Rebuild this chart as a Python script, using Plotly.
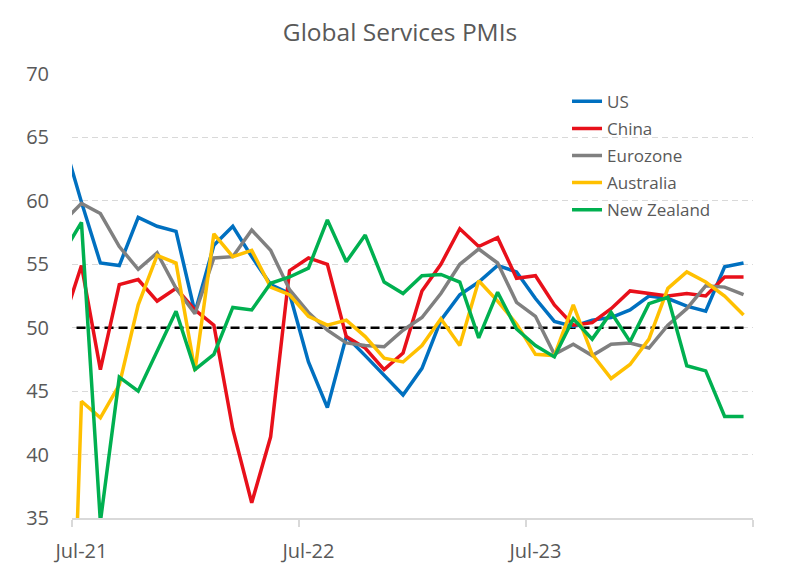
import plotly.graph_objects as go

# Monthly labels (Jun-21 is a partial, clipped lead-in month as in the original)
months = ["Jun-21", "Jul-21", "Aug-21", "Sep-21", "Oct-21", "Nov-21", "Dec-21",
          "Jan-22", "Feb-22", "Mar-22", "Apr-22", "May-22", "Jun-22",
          "Jul-22", "Aug-22", "Sep-22", "Oct-22", "Nov-22", "Dec-22",
          "Jan-23", "Feb-23", "Mar-23", "Apr-23", "May-23", "Jun-23",
          "Jul-23", "Aug-23", "Sep-23", "Oct-23", "Nov-23", "Dec-23",
          "Jan-24", "Feb-24", "Mar-24", "Apr-24", "May-24", "Jun-24"]

us = [65.0, 59.9, 55.1, 54.9, 58.7, 58.0, 57.6,
      51.2, 56.5, 58.0, 55.6, 53.4, 52.7, 47.3, 43.7, 49.3, 47.8, 46.2, 44.7,
      46.8, 50.6, 52.6, 53.6, 54.9, 54.4, 52.3, 50.5, 50.1, 50.6, 50.8, 51.4,
      52.5, 52.3, 51.7, 51.3, 54.8, 55.1]
china = [50.3, 54.9, 46.7, 53.4, 53.8, 52.1, 53.1,
         51.4, 50.2, 42.0, 36.2, 41.4, 54.5, 55.5, 55.0, 49.3, 48.4, 46.7, 48.0,
         52.9, 55.0, 57.8, 56.4, 57.1, 53.9, 54.1, 51.8, 50.2, 50.4, 51.5, 52.9,
         52.7, 52.5, 52.7, 52.5, 54.0, 54.0]
eurozone = [58.3, 59.8, 59.0, 56.4, 54.6, 55.9, 53.1,
            51.1, 55.5, 55.6, 57.7, 56.1, 53.0, 51.2, 49.8, 48.8, 48.6, 48.5, 49.8,
            50.8, 52.7, 55.0, 56.2, 55.1, 52.0, 50.9, 47.9, 48.7, 47.8, 48.7, 48.8,
            48.4, 50.2, 51.5, 53.3, 53.2, 52.6]
australia = [0.0, 44.2, 42.9, 45.5, 51.8, 55.7, 55.1,
             46.6, 57.4, 55.6, 56.1, 53.2, 52.6, 50.9, 50.2, 50.6, 49.3, 47.6, 47.3,
             48.6, 50.7, 48.6, 53.7, 52.1, 50.3, 47.9, 47.8, 51.8, 47.9, 46.0, 47.1,
             49.1, 53.1, 54.4, 53.6, 52.5, 51.0]
new_zealand = [55.8, 58.3, 34.7, 46.1, 45.0, 48.2, 51.3,
               46.7, 47.9, 51.6, 51.4, 53.5, 54.0, 54.7, 58.5, 55.2, 57.3, 53.6, 52.7,
               54.1, 54.2, 53.6, 49.2, 52.8, 49.9, 48.6, 47.7, 50.7, 49.1, 51.2, 48.9,
               51.9, 52.4, 47.0, 46.6, 43.0, 43.0]
threshold = [50] * len(months)

tick_labels = ["Jul-21", "Jul-22", "Jul-23"]

series = [("US", us, "#0070C0"),
          ("China", china, "#E8101A"),
          ("Eurozone", eurozone, "#808080"),
          ("Australia", australia, "#FFC000"),
          ("New Zealand", new_zealand, "#00B050")]

first = months.index("Jul-21")
xpos = [i - first for i in range(len(months))]
label_pos = [months.index(m) - first for m in tick_labels]
n_shown = len(months) - first
bounds = [-0.5 + 12 * k for k in range(n_shown // 12 + 1)]

FONT = "Open Sans"
GREY_TXT = "#595959"
W, H = 784, 569  # page body has an 8px margin

fig = go.Figure()
fig.add_trace(go.Scatter(x=xpos, y=threshold, mode="lines", showlegend=False,
                         line=dict(color="black", width=2.5, dash="9px,5px"),
                         hoverinfo="skip"))
for name, vals, col in series:
    fig.add_trace(go.Scatter(x=xpos, y=vals, mode="lines", name=name,
                             legendgroup=name,
                             line=dict(color=col, width=3.5)))

fig.update_layout(
    width=W, height=H,
    margin=dict(l=64, r=39, t=66, b=59),
    paper_bgcolor="white", plot_bgcolor="white",
    font=dict(family=FONT, color=GREY_TXT),
    title=dict(text="Global Services PMIs", x=0.5, xref="container", xanchor="center",
               y=1 - 24 / H, yref="container", yanchor="middle",
               font=dict(size=24.5, color=GREY_TXT, family=FONT)),
    legend=dict(x=0.7269, y=0.978, xanchor="left", yanchor="top",
                bgcolor="rgba(0,0,0,0)", font=dict(size=17, color=GREY_TXT),
                tracegroupgap=2),
    xaxis=dict(range=[bounds[0], bounds[-1]], tickmode="array",
               tickvals=label_pos, ticktext=tick_labels, ticks="",
               showgrid=False, zeroline=False,
               showline=True, linecolor="#D9D9D9", linewidth=1.5,
               tickfont=dict(size=20, color=GREY_TXT),
               ticklabelstandoff=14, ticklabeloverflow="allow",
               minor=dict(tickmode="array", tickvals=bounds, ticks="outside",
                          ticklen=7, tickwidth=1.5, tickcolor="#D9D9D9",
                          showgrid=False)),
    yaxis=dict(range=[35, 70], dtick=5, tick0=35, showgrid=True,
               gridcolor="#D9D9D9", gridwidth=1, griddash="6px,4px",
               zeroline=False, showline=False, ticks="",
               tickfont=dict(size=20, color=GREY_TXT),
               ticklabelstandoff=22),
)

fig.write_html("out.html")
